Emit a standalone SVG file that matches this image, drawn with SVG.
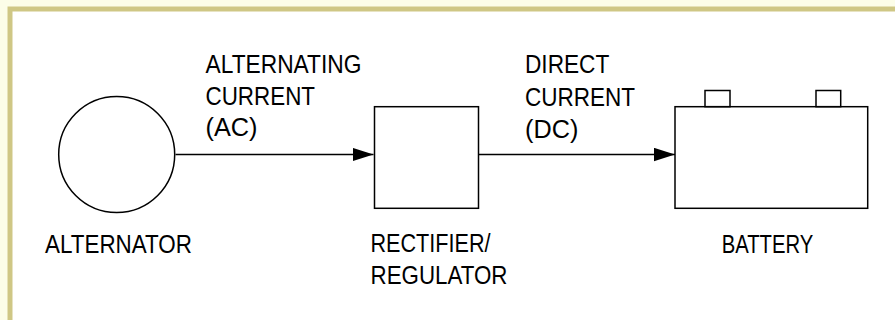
<svg xmlns="http://www.w3.org/2000/svg" width="895" height="320" viewBox="0 0 895 320">
  <style>
    .shape { fill: none; stroke: #000; stroke-width: 1.5; }
    .conn { fill: none; stroke: #000; stroke-width: 1.5; }
    .lbl { font-family: "Liberation Sans", Arial, sans-serif; font-size: 25px; fill: #000; }
  </style>
  <defs>
    <marker id="arrow" markerUnits="userSpaceOnUse" markerWidth="22" markerHeight="14" refX="21" refY="6.7" orient="auto">
      <path d="M0,0 L21,6.7 L0,13.4 Z" fill="#000"/>
    </marker>
  </defs>
  <rect x="0" y="0" width="895" height="320" fill="#fcfde8"/>
  <rect x="10" y="9" width="900" height="400" fill="#ffffff" stroke="#cfc785" stroke-width="5"/>

  <g id="alternator">
    <circle class="shape" cx="116.7" cy="154.5" r="58"/>
    <text class="lbl" x="45" y="253.3" textLength="147" lengthAdjust="spacingAndGlyphs">ALTERNATOR</text>
  </g>

  <g id="rectifier">
    <rect class="shape" x="374.5" y="106.7" width="104" height="101.6"/>
    <text class="lbl" x="370.5" y="251.5" textLength="120" lengthAdjust="spacingAndGlyphs">RECTIFIER/</text>
    <text class="lbl" x="370.5" y="284" textLength="137" lengthAdjust="spacingAndGlyphs">REGULATOR</text>
  </g>

  <g id="battery">
    <rect class="shape" x="675" y="106.7" width="192.7" height="101.6"/>
    <rect class="shape" x="705" y="90.5" width="25" height="16.2"/>
    <rect class="shape" x="816" y="90.5" width="24.7" height="16.2"/>
    <text class="lbl" x="721.7" y="253.3" textLength="91.6" lengthAdjust="spacingAndGlyphs">BATTERY</text>
  </g>

  <g id="connectors">
    <line class="conn" x1="175.5" y1="154.5" x2="373.5" y2="154.5" marker-end="url(#arrow)"/>
    <line class="conn" x1="478.5" y1="154.5" x2="675" y2="154.5" marker-end="url(#arrow)"/>
    <g id="ac-label">
      <text class="lbl" x="205.5" y="73.3" textLength="156" lengthAdjust="spacingAndGlyphs">ALTERNATING</text>
      <text class="lbl" x="205.5" y="104.5" textLength="109.5" lengthAdjust="spacingAndGlyphs">CURRENT</text>
      <text class="lbl" x="205.5" y="136" textLength="52" lengthAdjust="spacingAndGlyphs">(AC)</text>
    </g>
    <g id="dc-label">
      <text class="lbl" x="525" y="73.3" textLength="84.3" lengthAdjust="spacingAndGlyphs">DIRECT</text>
      <text class="lbl" x="525" y="105.5" textLength="110" lengthAdjust="spacingAndGlyphs">CURRENT</text>
      <text class="lbl" x="525" y="138" textLength="53.3" lengthAdjust="spacingAndGlyphs">(DC)</text>
    </g>
  </g>
</svg>
